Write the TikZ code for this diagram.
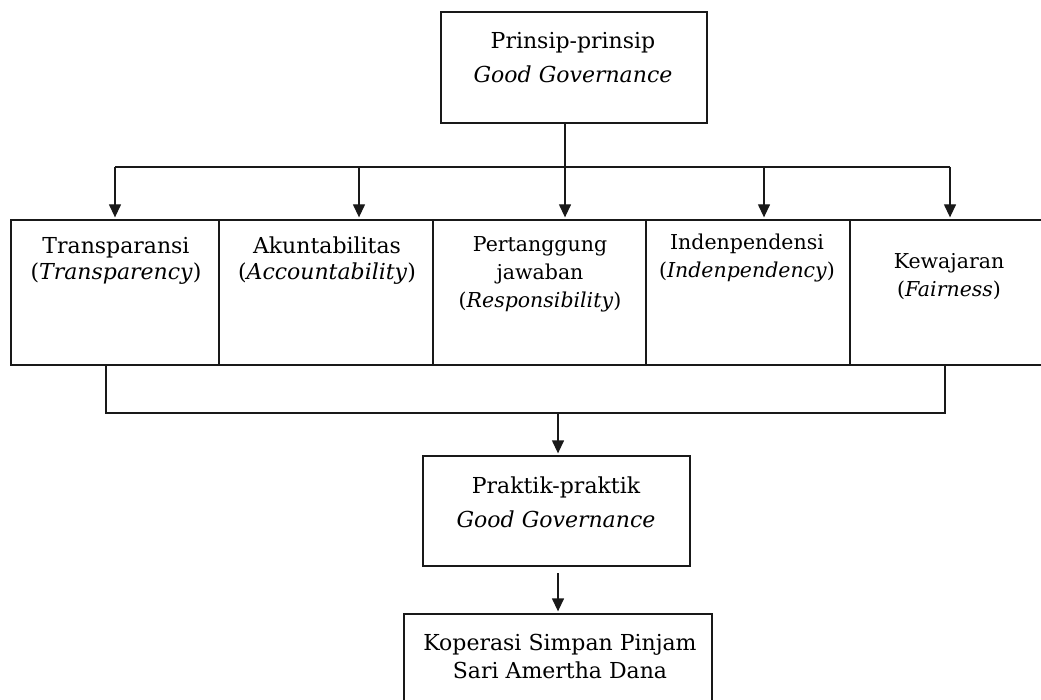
\documentclass[tikz,border=0pt]{standalone}
\usepackage{fontspec}
\setmainfont{DejaVu Serif}
\usetikzlibrary{arrows.meta}
\begin{document}
\begin{tikzpicture}[x=1pt,y=-1pt,
  box/.style={draw=black!90, line width=1.3pt, inner sep=0pt},
  conn/.style={draw=black!90, line width=1.3pt},
  arr/.style={conn, -{Triangle[width=12pt,length=13pt]}, shorten >=2pt},
  lbl/.style={align=center, inner sep=0pt, anchor=base},
  big/.style={lbl, font=\fontsize{22}{26}\selectfont},
  mid/.style={lbl, font=\fontsize{20.5}{28}\selectfont},
  wide/.style={lbl, font=\fontsize{22}{34}\selectfont}]
\useasboundingbox (0,0) rectangle (1041,700);
\begin{scope}
\clip (0,0) rectangle (1041,700);
% boxes
\node[box, minimum width=266pt, minimum height=111pt] (top) at (574,67.5) {};
\node[box, minimum width=208pt, minimum height=145pt] (b1) at (115,292.5) {};
\node[box, minimum width=214pt, minimum height=145pt] (b2) at (326,292.5) {};
\node[box, minimum width=213pt, minimum height=145pt] (b3) at (539.5,292.5) {};
\node[box, minimum width=204pt, minimum height=145pt] (b4) at (748,292.5) {};
\node[box, minimum width=198pt, minimum height=145pt] (b5) at (949,292.5) {};
\node[box, minimum width=267pt, minimum height=110pt] (prak) at (556.5,511) {};
\node[box, minimum width=308pt, minimum height=116pt] (kop) at (558,672) {};
% texts (anchor base = baseline of the last line)
\node[wide] (ttop) at (573,83) {Prinsip-prinsip\\\textit{Good Governance}};
\node[big] (t1) at (116,280) {Transparansi\\(\textit{Transparency})};
\node[big] (t2) at (327,280) {Akuntabilitas\\(\textit{Accountability})};
\node[mid] (t3) at (540,308) {Pertanggung\\jawaban\\(\textit{Responsibility})};
\node[mid] (t4) at (747,278) {Indenpendensi\\(\textit{Indenpendency})};
\node[mid] (t5) at (949,297) {Kewajaran\\(\textit{Fairness})};
\node[wide] (tprak) at (556,527) {Praktik-praktik\\\textit{Good Governance}};
\node[lbl, font=\fontsize{22}{28}\selectfont] (tkop) at (560,678) {Koperasi Simpan Pinjam\\Sari Amertha Dana};
% connectors from top
\coordinate (hub) at (565,167);
\coordinate (hl) at (115,167);
\coordinate (a2) at (359,167);
\coordinate (a4) at (764,167);
\coordinate (hr) at (950,167);
\draw[conn] (top.south -| hub) -- (hub);
\draw[conn] (hl) -- (hr);
\draw[arr] (hl) -- (hl |- b1.north);
\draw[arr] (a2) -- (a2 |- b2.north);
\draw[arr] (hub) -- (hub |- b3.north);
\draw[arr] (a4) -- (a4 |- b4.north);
\draw[arr] (hr) -- (hr |- b5.north);
% bracket below
\coordinate (bl) at (106,413);
\coordinate (br) at (945,413);
\coordinate (bm) at (558,413);
\draw[conn] (bl |- b1.south) -- (bl) -- (br) -- (br |- b5.south);
\draw[arr] (bm) -- (bm |- prak.north);
\coordinate (pm) at (558,573);
\draw[arr] (pm) -- (pm |- kop.north);
\end{scope}
\end{tikzpicture}
\end{document}
